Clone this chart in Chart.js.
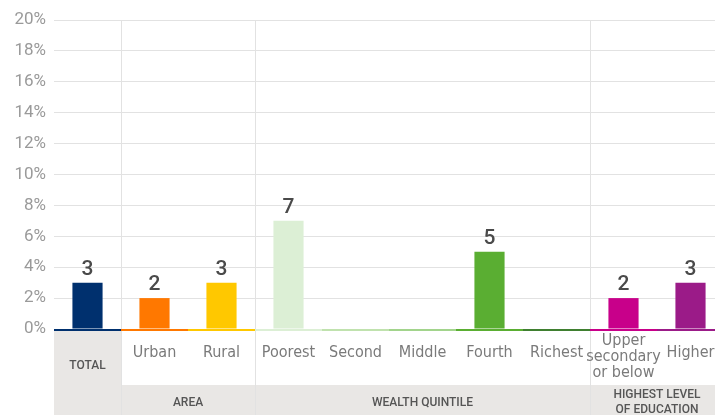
<!DOCTYPE html>
<html>
<head>
<meta charset="utf-8">
<script src="https://cdn.jsdelivr.net/npm/chart.js@4.4.1/dist/chart.umd.min.js"></script>
<style>
  html, body { margin: 0; padding: 0; background: #fff; overflow: hidden; width: 715px; height: 415px; }
  #wrap { width: 724px; height: 415px; position: relative; }
</style>
</head>
<body>
<div id="wrap"><canvas id="c" width="724" height="415"></canvas></div>
<script>
// Share of people, by background characteristic (percent)
const categories = ['TOTAL', 'Urban', 'Rural', 'Poorest', 'Second', 'Middle', 'Fourth', 'Richest', ['Upper', 'secondary', 'or below'], 'Higher'];
const values = [3, 2, 3, 7, 0, 0, 5, 0, 2, 3];
const barColors = ['#00306e', '#ff7800', '#ffc800', '#dcefd5', '#c0e2ae', '#a2d48c', '#5aae32', '#3f7f30', '#c8008a', '#9b1b88'];
const groupLabels = [['AREA'], ['WEALTH QUINTILE'], ['HIGHEST LEVEL', 'OF EDUCATION']];
const groupStarts = [1, 3, 8];
const groupEnds = [2, 7, 9];
const yTicks = [0, 2, 4, 6, 8, 10, 12, 14, 16, 18, 20];

const NARROW = "'DejaVu Sans Condensed', 'Liberation Sans Narrow', Roboto, sans-serif";
const GRID = '#e2e2e2';
const BAND = '#e9e7e5';

const decorPlugin = {
  id: 'decor',
  beforeDatasetsDraw(chart) {
    const { ctx, chartArea, scales } = chart;
    const x = scales.x;
    const colW = chartArea.width / categories.length;
    const H = chart.height;
    ctx.save();
    // grey band under the TOTAL column
    const x0 = x.getPixelForValue(0) - colW / 2;
    ctx.fillStyle = BAND;
    ctx.fillRect(x0, chartArea.bottom + 2, colW, H - chartArea.bottom - 2);
    // grey band carrying the group titles
    ctx.fillRect(x0 + colW, H - 30, chartArea.right - x0 - colW, 30);
    // separators between groups
    ctx.strokeStyle = GRID;
    ctx.lineWidth = 1;
    [0, 2, 7].forEach(i => {
      const sx = Math.round(x.getPixelForValue(i) + colW / 2) + 0.5;
      ctx.beginPath();
      ctx.moveTo(sx, chartArea.top);
      ctx.lineTo(sx, H);
      ctx.stroke();
    });
    ctx.restore();
  },
  afterDatasetsDraw(chart) {
    const { ctx, chartArea, scales } = chart;
    const x = scales.x;
    const colW = chartArea.width / categories.length;
    const meta = chart.getDatasetMeta(0);
    ctx.save();
    // coloured baseline under each column
    categories.forEach((c, i) => {
      const cx = x.getPixelForValue(i);
      ctx.fillStyle = barColors[i];
      ctx.fillRect(cx - colW / 2, chartArea.bottom, colW, 2);
    });
    // value labels
    ctx.fillStyle = '#4a4a4a';
    ctx.font = '500 21px Roboto, sans-serif';
    ctx.textAlign = 'center';
    ctx.textBaseline = 'alphabetic';
    meta.data.forEach((bar, i) => {
      if (values[i] > 0) ctx.fillText(String(values[i]), bar.x, bar.y - 8);
    });
    // category labels
    ctx.fillStyle = '#7a7a7a';
    ctx.font = '16px ' + NARROW;
    ctx.textBaseline = 'middle';
    categories.forEach((c, i) => {
      if (i === 0) return;
      const cx = x.getPixelForValue(i);
      const lines = Array.isArray(c) ? c : [c];
      const lh = 16;
      const y0 = lines.length > 1 ? 341 : 353;
      lines.forEach((t, k) => ctx.fillText(t, cx, y0 + k * lh));
    });
    // TOTAL caption
    ctx.fillStyle = '#555';
    ctx.font = '500 12px Roboto, sans-serif';
    ctx.fillText('TOTAL', x.getPixelForValue(0), 366);
    // group titles
    groupLabels.forEach((lines, g) => {
      const gx = (x.getPixelForValue(groupStarts[g]) + x.getPixelForValue(groupEnds[g])) / 2;
      const y0 = lines.length > 1 ? 395 : 403;
      lines.forEach((t, k) => ctx.fillText(t, gx, y0 + k * 15));
    });
    ctx.restore();
  }
};

new Chart(document.getElementById('c'), {
  type: 'bar',
  data: {
    labels: categories,
    datasets: [{
      data: values,
      backgroundColor: barColors,
      borderWidth: 0,
      categoryPercentage: 1,
      barPercentage: 0.45
    }]
  },
  options: {
    responsive: false,
    animation: false,
    devicePixelRatio: 1,
    layout: { padding: { top: 20, bottom: 86, left: 0, right: 0 } },
    plugins: { legend: { display: false }, tooltip: { enabled: false } },
    scales: {
      x: { display: false },
      y: {
        min: 0,
        max: 20,
        afterFit(scale) { scale.width = 54; },
        afterBuildTicks(scale) { scale.ticks = yTicks.map(v => ({ value: v })); },
        border: { display: false },
        grid: { color: GRID, drawTicks: false },
        ticks: {
          padding: 8,
          color: '#9a9a9a',
          font: { family: 'Roboto, sans-serif', size: 17 },
          callback: v => v + '%'
        }
      }
    }
  },
  plugins: [decorPlugin]
});
</script>
</body>
</html>
